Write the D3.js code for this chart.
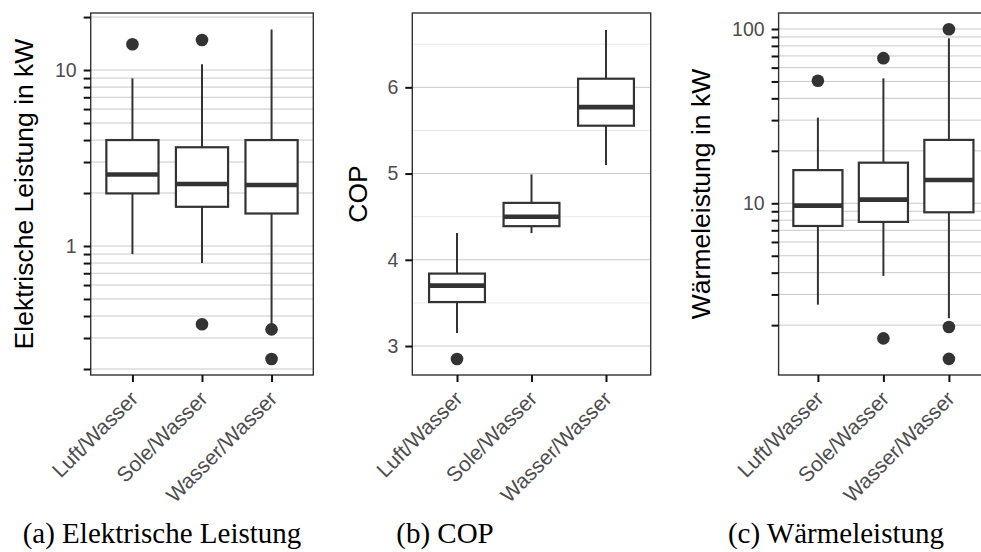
<!DOCTYPE html>
<html>
<head>
<meta charset="utf-8">
<script src="https://cdn.jsdelivr.net/npm/d3@7"></script>
<style>
  html, body { margin: 0; padding: 0; background: #fff; }
  svg { display: block; }
</style>
</head>
<body>
<svg id="chart" width="981" height="552"></svg>
<script>
// ---------------- DATA ----------------
const categories = ["Luft/Wasser", "Sole/Wasser", "Wasser/Wasser"];

// (a) Elektrische Leistung in kW
const elLow  = [0.90, 0.80, 0.351];
const elQ1   = [1.99, 1.67, 1.53];
const elMed  = [2.55, 2.25, 2.22];
const elQ3   = [4.00, 3.64, 4.00];
const elHigh = [8.97, 10.8, 17.0];
const elOut  = [[14.0], [14.8, 0.359], [0.336, 0.228]];
const elTicks = [0.2,0.3,0.4,0.5,0.6,0.7,0.8,0.9,1,2,3,4,5,6,7,8,9,10,20];
const elTickLabels = {1: "1", 10: "10"};

// (b) COP
const copLow  = [3.15, 4.31, 5.10];
const copQ1   = [3.51, 4.39, 5.555];
const copMed  = [3.70, 4.50, 5.77];
const copQ3   = [3.84, 4.66, 6.10];
const copHigh = [4.31, 4.99, 6.665];
const copOut  = [[2.85], [], []];
const copTicks = [3, 4, 5, 6];
const copMinor = [3.5, 4.5, 5.5, 6.5];

// (c) Wärmeleistung in kW
const wLow  = [2.62, 3.83, 2.19];
const wQ1   = [7.41, 7.82, 8.88];
const wMed  = [9.7, 10.5, 13.6];
const wQ3   = [15.5, 17.1, 23.1];
const wHigh = [31.0, 52.1, 88.4];
const wOut  = [[50.5], [68, 1.68], [99.6, 1.95, 1.28]];
const wTicks = [2,3,4,5,6,7,8,9,10,20,30,40,50,60,70,80,90,100];
const wTickLabels = {10: "10", 100: "100"};

const captions = ["(a) Elektrische Leistung", "(b) COP", "(c) Wärmeleistung"];

// ---------------- LAYOUT ----------------
const svg = d3.select("#chart");
svg.append("rect").attr("width", 981).attr("height", 552).attr("fill", "#fff");

const TOP = 13, BOTTOM = 375;
const sans = "'Liberation Sans', Arial, Helvetica, sans-serif";

function makeRows(low, q1, med, q3, high, out) {
  return categories.map((c, i) => ({cat: c, low: low[i], q1: q1[i], med: med[i], q3: q3[i], high: high[i], out: out[i]}));
}

const panels = [
  {
    left: 90.7, right: 313.3, log: true, domain: [0.1849, 21.09],
    ticks: elTicks, fmt: v => elTickLabels[v] || "", grid: elTicks, minor: [],
    title: "Elektrische Leistung in kW", titleX: 33,
    rows: makeRows(elLow, elQ1, elMed, elQ3, elHigh, elOut),
    caption: captions[0], capX: 162
  },
  {
    left: 412.3, right: 650.7, log: false, domain: [2.664, 6.862],
    ticks: copTicks, fmt: d3.format("d"), grid: copTicks, minor: copMinor,
    title: "COP", titleX: 366.7,
    rows: makeRows(copLow, copQ1, copMed, copQ3, copHigh, copOut),
    caption: captions[1], capX: 445
  },
  {
    left: 778.6, right: 988.2, log: true, domain: [1.035, 123.5],
    ticks: wTicks, fmt: v => wTickLabels[v] || "", grid: wTicks, minor: [],
    title: "Wärmeleistung in kW", titleX: 710,
    rows: makeRows(wLow, wQ1, wMed, wQ3, wHigh, wOut),
    caption: captions[2], capX: 836
  }
];

const DARK = "#333333";

panels.forEach(p => {
  const g = svg.append("g");
  const y = (p.log ? d3.scaleLog() : d3.scaleLinear()).domain(p.domain).range([BOTTOM, TOP]);
  const x = d3.scalePoint().domain(categories).range([p.left, p.right]).padding(0.6);
  const bw = x.step() * 0.75;

  // minor grid
  g.selectAll(".minor").data(p.minor).enter().append("line")
    .attr("x1", p.left).attr("x2", p.right)
    .attr("y1", d => y(d)).attr("y2", d => y(d))
    .attr("stroke", "#e8e8e8").attr("stroke-width", 1);
  // major grid
  g.selectAll(".major").data(p.grid).enter().append("line")
    .attr("x1", p.left).attr("x2", p.right)
    .attr("y1", d => y(d)).attr("y2", d => y(d))
    .attr("stroke", "#c9c9c9").attr("stroke-width", 1);

  // boxes
  const b = g.selectAll(".box").data(p.rows).enter().append("g");
  b.append("line")
    .attr("x1", d => x(d.cat)).attr("x2", d => x(d.cat))
    .attr("y1", d => y(d.q3)).attr("y2", d => y(d.high))
    .attr("stroke", DARK).attr("stroke-width", 2);
  b.append("line")
    .attr("x1", d => x(d.cat)).attr("x2", d => x(d.cat))
    .attr("y1", d => y(d.q1)).attr("y2", d => y(d.low))
    .attr("stroke", DARK).attr("stroke-width", 2);
  b.append("rect")
    .attr("x", d => x(d.cat) - bw / 2).attr("width", bw)
    .attr("y", d => y(d.q3)).attr("height", d => y(d.q1) - y(d.q3))
    .attr("fill", "#fff").attr("stroke", DARK).attr("stroke-width", 2.2);
  b.append("line")
    .attr("x1", d => x(d.cat) - bw / 2).attr("x2", d => x(d.cat) + bw / 2)
    .attr("y1", d => y(d.med)).attr("y2", d => y(d.med))
    .attr("stroke", DARK).attr("stroke-width", 4.6);
  b.each(function(d) {
    d3.select(this).selectAll("circle").data(d.out).enter().append("circle")
      .attr("cx", x(d.cat)).attr("cy", v => y(v)).attr("r", 6.3)
      .attr("fill", DARK);
  });

  // panel border
  g.append("rect")
    .attr("x", p.left).attr("y", TOP)
    .attr("width", p.right - p.left).attr("height", BOTTOM - TOP)
    .attr("fill", "none").attr("stroke", DARK).attr("stroke-width", 1.4);

  // y axis
  const ya = g.append("g").attr("transform", `translate(${p.left},0)`)
    .call(d3.axisLeft(y).tickValues(p.ticks).tickFormat(p.fmt).tickSize(7).tickPadding(7));
  ya.select(".domain").remove();
  ya.selectAll(".tick line").attr("stroke", "#111").attr("stroke-width", 2);
  ya.selectAll(".tick text").attr("fill", "#4d4d4d")
    .style("font-family", sans).style("font-size", "19.5px");

  // x axis
  const xa = g.append("g").attr("transform", `translate(0,${BOTTOM})`)
    .call(d3.axisBottom(x).tickSize(7).tickFormat(""));
  xa.select(".domain").remove();
  xa.selectAll(".tick line").attr("stroke", "#111").attr("stroke-width", 2);

  g.selectAll(".xlab").data(categories).enter().append("text")
    .attr("transform", d => `translate(${x(d) + 7},${400}) rotate(-45)`)
    .attr("text-anchor", "end")
    .attr("fill", "#4d4d4d")
    .style("font-family", sans).style("font-size", "21px")
    .text(d => d);

  // y title
  g.append("text")
    .attr("transform", `translate(${p.titleX},${(TOP + BOTTOM) / 2}) rotate(-90)`)
    .attr("text-anchor", "middle")
    .attr("fill", "#000")
    .style("font-family", sans).style("font-size", "26.5px")
    .text(p.title);

  // caption
  svg.append("text")
    .attr("x", p.capX).attr("y", 543)
    .attr("text-anchor", "middle")
    .attr("fill", "#000")
    .style("font-family", "'Liberation Serif', 'Times New Roman', serif")
    .style("font-size", "29px")
    .text(p.caption);
});
</script>
</body>
</html>
